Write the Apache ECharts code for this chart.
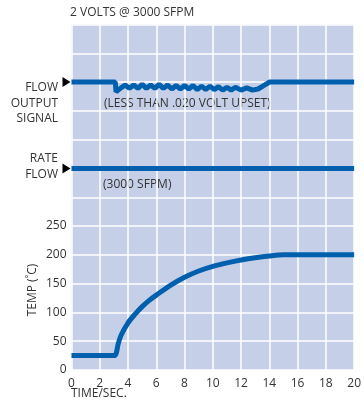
<!DOCTYPE html>
<html><head><meta charset="utf-8">
<script src="https://cdn.jsdelivr.net/npm/echarts@6/dist/echarts.min.js"></script>
<style>html,body{margin:0;padding:0;background:#fff}#c{width:364px;height:405px}</style>
</head><body><div id="c"></div>
<script>
// time (s), temperature (°C)
var tempData = [[0,25],[3.0,25],[3.15,28],[3.3,45],[3.5,60],[4,82],[4.5,97],[5,110],[5.5,121],[6,130],[7,147],[8,161],[9,172],[10,180],[11,186],[12,191],[13,195],[14,198],[15,200],[16,200],[18,200],[20,200]];
// flow output signal trace (plotted on shared vertical scale, baseline 500)
var flowData = [[0,500],[3.1,500],[3.15,483],[3.5,490],[3.8,495],[4.1,489],[4.4,495],[4.7,489],[5.0,496],[5.3,489],[5.6,495],[5.9,489],[6.2,496],[6.5,489],[6.8,495],[7.1,488],[7.4,494],[7.7,488],[8.0,494],[8.3,488],[8.6,494],[8.9,487],[9.2,493],[9.5,487],[9.8,493],[10.1,487],[10.4,492],[10.7,486],[11.0,491],[11.3,486],[11.6,491],[12.0,486],[12.4,490],[12.8,486],[13.2,488],[13.6,494],[14,500],[20,500]];
// rate flow trace (baseline 350)
var rateData = [[0,350],[20,350]];
var xTicks = [0,2,4,6,8,10,12,14,16,18,20];
var yTickLabels = [0,50,100,150,200,250];

var LINE = '#0060ae';
var TXT = '#333';
var FONT = 'Open Sans';
var chart = echarts.init(document.getElementById('c'));
function arrow(y){
  return {coord:[0,y], symbol:'triangle', symbolSize:[10,8], symbolRotate:-90, symbolOffset:[-5,0], itemStyle:{color:'#000'}, label:{show:false}};
}
chart.setOption({
  animation:false,
  backgroundColor:'#fff',
  textStyle:{fontFamily:FONT},
  grid:{left:71.5, right:0.5, top:24.5, bottom:35, show:true, backgroundColor:'#c5d0e8', borderWidth:0},
  xAxis:{type:'value', min:0, max:20, interval:2,
    axisLine:{show:false}, axisTick:{show:false},
    splitLine:{show:true, lineStyle:{color:'#fff', width:1.5}},
    axisLabel:{color:TXT, fontSize:12, fontFamily:FONT, margin:8, showMaxLabel:true,
      formatter:function(v){return xTicks.indexOf(v)>=0? String(v):'';}}},
  yAxis:{type:'value', min:0, max:600, interval:50,
    axisLine:{show:false}, axisTick:{show:false},
    splitLine:{show:true, lineStyle:{color:'#fff', width:1.5}},
    axisLabel:{color:TXT, fontSize:12, fontFamily:FONT, margin:5,
      formatter:function(v){return yTickLabels.indexOf(v)>=0? String(v):'';}}},
  series:[
    {type:'line', data:tempData, showSymbol:false, smooth:0.3, lineStyle:{color:LINE, width:5}, clip:false},
    {type:'line', data:flowData, showSymbol:false, lineStyle:{color:LINE, width:5}, clip:false,
      markPoint:{silent:true, data:[arrow(500)]}},
    {type:'line', data:rateData, showSymbol:false, lineStyle:{color:LINE, width:5}, clip:false,
      markPoint:{silent:true, data:[arrow(350)]}}
  ],
  graphic:[
    {type:'text', left:70, top:7, style:{text:'2 VOLTS @ 3000 SFPM', font:'12px "Open Sans"', fill:TXT}},
    {type:'text', x:58, y:80, style:{text:'FLOW\nOUTPUT\nSIGNAL', font:'12px "Open Sans"', lineHeight:15.5, fill:TXT, align:'right', verticalAlign:'top'}},
    {type:'text', x:58, y:151, style:{text:'RATE\nFLOW', font:'12px "Open Sans"', lineHeight:15.5, fill:TXT, align:'right', verticalAlign:'top'}},
    {type:'text', left:104, top:98, style:{text:'(LESS THAN .020 VOLT UPSET)', font:'12px "Open Sans"', fill:TXT}},
    {type:'text', left:103, top:179, style:{text:'(3000 SFPM)', font:'12px "Open Sans"', fill:TXT}},
    {type:'text', x:33, y:290, rotation:Math.PI/2, style:{text:'TEMP (˚C)', font:'12px "Open Sans"', fill:TXT, align:'center', verticalAlign:'middle'}},
    {type:'text', left:71, top:388, style:{text:'TIME/SEC.', font:'12px "Open Sans"', fill:TXT}}
  ]
});
</script></body></html>
